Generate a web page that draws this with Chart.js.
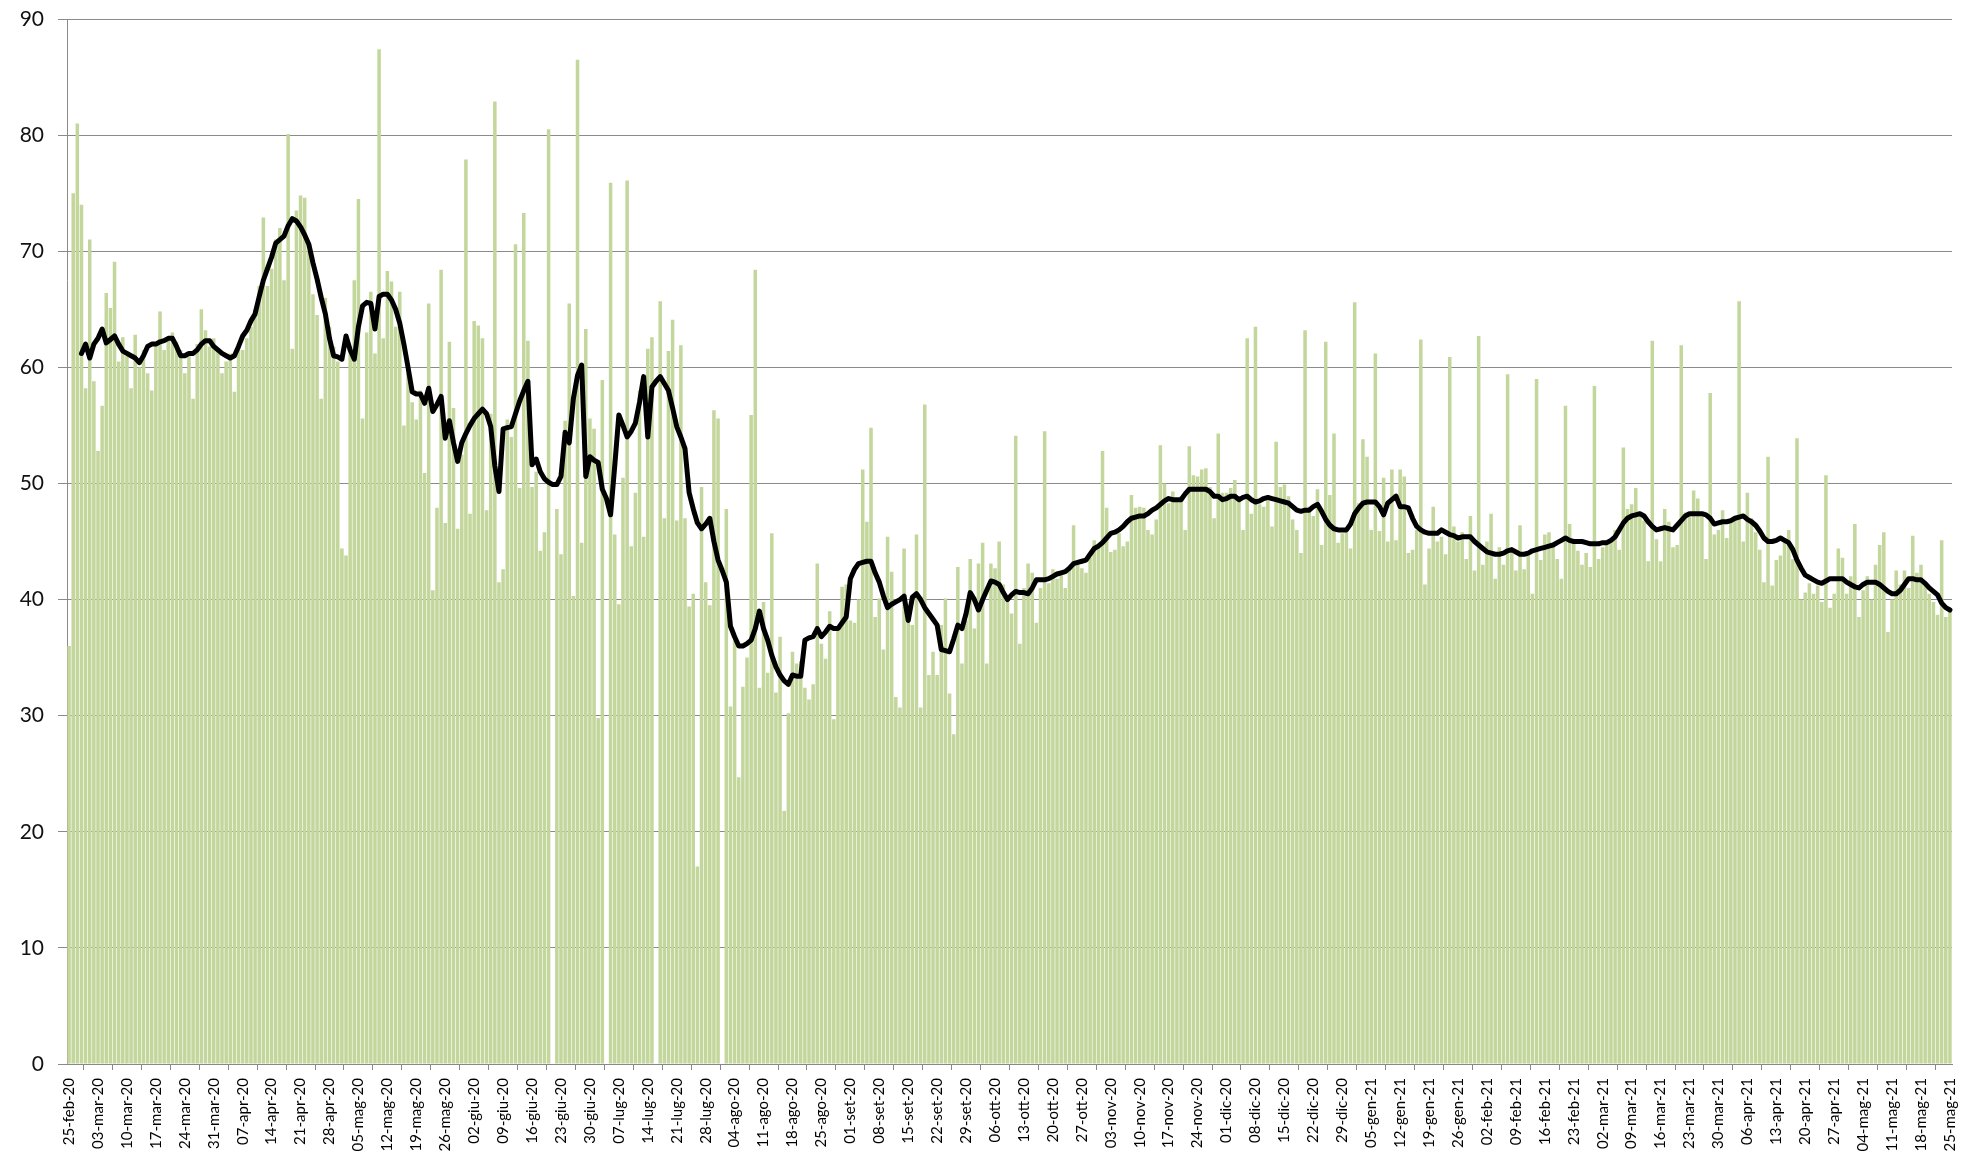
<!DOCTYPE html>
<html lang="it">
<head>
    <meta charset="UTF-8">
    <title>Quota giornaliera e media mobile</title>
    <script src="https://cdn.jsdelivr.net/npm/chart.js"></script>
    <style>
        html, body { margin: 0; padding: 0; background: #fff; }
        #wrap { width: 1973px; height: 1159px; }
    </style>
</head>
<body>
<div id="wrap"><canvas id="chart" width="1973" height="1159"></canvas></div>

<script>
    // x labels: one per day from 25-feb-20, shown every 7 days
    const monthNames = ["gen", "feb", "mar", "apr", "mag", "giu", "lug", "ago", "set", "ott", "nov", "dic"];
    const firstDay = [2020, 1, 25];
    const labelEvery = 7;
    const yTicks = { min: 0, max: 90, step: 10 };

    // daily values (bars), one row per week
    const dailyValues = [
        36, 75, 81, 74, 58.2, 71, 58.8,
        52.8, 56.7, 66.4, 65.1, 69.1, 60.5, 62.6,
        61, 58.2, 62.8, 60, 61.5, 59.5, 58,
        62, 64.8, 61.5, 62.5, 63, 62.2, 61.5,
        59.5, 61, 57.3, 62, 65, 63.2, 61.8,
        62.5, 61.5, 59.5, 60.5, 61.2, 57.9, 62,
        61.5, 62.5, 63.5, 65, 67, 72.9, 67,
        68.5, 71, 72, 67.5, 80.1, 61.6, 73.5,
        74.8, 74.6, 70, 66.3, 64.5, 57.3, 66,
        63.5, 61.8, 60.5, 44.4, 43.8, 61.5, 67.5,
        74.5, 55.6, 63, 66.5, 61.2, 87.4, 62.5,
        68.3, 67.4, 63.5, 66.5, 55, 59.5, 57,
        55.5, 58, 50.9, 65.5, 40.8, 47.9, 68.4,
        46.6, 62.2, 56.5, 46.1, 52.5, 77.9, 47.4,
        64, 63.6, 62.5, 47.7, 56, 82.9, 41.5,
        42.6, 55.5, 54, 70.6, 49.6, 73.3, 62.3,
        49.7, 51, 44.2, 45.8, 80.5, null, 47.8,
        43.9, 55.4, 65.5, 40.3, 86.5, 44.9, 63.3,
        55.6, 54.7, 29.8, 58.9, null, 75.9, 45.6,
        39.6, 50.5, 76.1, 44.6, 49.2, 58, 45.4,
        61.6, 62.6, null, 65.7, 47, 61.4, 64.1,
        46.8, 61.9, 47, 39.4, 40.5, 17, 49.7,
        41.5, 39.5, 56.3, 55.6, null, 47.8, 30.8,
        36.5, 24.7, 32.5, 35, 55.9, 68.4, 32.4,
        39.8, 33.7, 45.7, 32, 36.8, 21.8, 30.2,
        35.5, 34.5, 34.7, 32.4, 31.4, 32.7, 43.1,
        36.2, 34.9, 39, 29.7, 37.3, 41.1, 41.3,
        38.2, 38, 40, 51.2, 46.7, 54.8, 38.5,
        40.1, 35.7, 45.4, 42.4, 31.6, 30.7, 44.4,
        39.1, 37.8, 45.6, 30.7, 56.8, 33.5, 35.5,
        33.5, 37.8, 40.1, 31.9, 28.4, 42.8, 34.5,
        38.2, 43.5, 37.5, 43.1, 44.9, 34.5, 43.1,
        42.7, 45, 41.3, 40, 38.8, 54.1, 36.2,
        41, 43.1, 42.3, 38, 41, 54.5, 41.4,
        42.6, 41.8, 42.3, 41, 42.6, 46.4, 43.1,
        42.7, 42.3, 43.6, 45.1, 44.5, 52.8, 47.9,
        44.1, 44.3, 45.7, 44.6, 45, 49, 47.9,
        48, 47.9, 46, 45.6, 46.9, 53.3, 50,
        48.3, 49.3, 48.7, 48.9, 46, 53.2, 50.7,
        50.6, 51.2, 51.3, 49.7, 47, 54.3, 49.2,
        49.2, 49.6, 50.3, 48.6, 46, 62.5, 47.4,
        63.5, 48.2, 48, 48.6, 46.3, 53.6, 49.7,
        49.9, 48.9, 46.9, 46, 44, 63.2, 48,
        47.2, 49.5, 44.7, 62.2, 49, 54.3, 44.9,
        45.7, 45.9, 44.4, 65.6, 48.3, 53.8, 52.3,
        46, 61.2, 45.9, 50.5, 45, 51.2, 45.1,
        51.2, 50.6, 44, 44.3, 46, 62.4, 41.3,
        44.4, 48, 45, 45.4, 43.9, 60.9, 46.3,
        45, 45.8, 43.5, 47.2, 42.5, 62.7, 43,
        45, 47.4, 41.8, 44.5, 43, 59.4, 44,
        42.5, 46.4, 42.6, 43.8, 40.5, 59, 43.4,
        45.6, 45.8, 44.5, 43.5, 41.8, 56.7, 46.5,
        45.2, 44.2, 43, 44, 42.8, 58.4, 43.5,
        44.5, 45, 45.2, 46, 44.3, 53.1, 47.8,
        48.2, 49.6, 47.5, 46.8, 43.3, 62.3, 45.2,
        43.3, 47.8, 46.7, 44.5, 44.7, 61.9, 47.5,
        47.2, 49.4, 48.7, 47.5, 43.5, 57.8, 45.6,
        46, 47.7, 45.3, 46.8, 47, 65.7, 45,
        49.2, 47, 45.8, 44.3, 41.5, 52.3, 41.2,
        43.4, 43.8, 45.1, 46, 43.5, 53.9, 40,
        40.6, 41.4, 40.5, 41.2, 39.8, 50.7, 39.3,
        40.5, 44.4, 43.6, 40.5, 42, 46.5, 38.5,
        40.8, 42, 40, 43, 44.7, 45.8, 37.2,
        40, 42.5, 41.3, 42.5, 41, 45.5, 42.3,
        43, 41.5, 40.5, 39.8, 38.7, 45.1, 38.5,
        39
    ];

    // moving average (black line), one row per week
    const avgValues = [
        null, null, null, 61.2, 62, 60.8, 62,
        62.5, 63.3, 62.1, 62.4, 62.7, 62, 61.4,
        61.2, 61, 60.8, 60.4, 61, 61.8, 62,
        62, 62.2, 62.3, 62.5, 62.5, 61.8, 61,
        61, 61.2, 61.2, 61.5, 62, 62.3, 62.3,
        61.8, 61.5, 61.2, 61, 60.8, 61, 61.8,
        62.7, 63.2, 64, 64.6, 66.1, 67.5, 68.5,
        69.5, 70.7, 71, 71.3, 72.2, 72.8, 72.6,
        72.1, 71.4, 70.6, 69, 67.6, 66, 64.6,
        62.5, 61, 60.9, 60.7, 62.7, 61.5, 60.7,
        63.5, 65.3, 65.6, 65.5, 63.3, 66.1, 66.3,
        66.3, 65.8, 65, 63.8, 62, 60, 57.9,
        57.7, 57.7, 56.9, 58.2, 56.2, 56.8, 57.5,
        53.9, 55.4, 53.5, 51.9, 53.5, 54.3, 55,
        55.6, 56, 56.4, 56, 54.9, 51.5, 49.3,
        54.7, 54.8, 54.9, 56, 57.1, 58, 58.8,
        51.6, 52.1, 51, 50.4, 50.1, 49.9, 49.9,
        50.6, 54.4, 53.5, 57.3, 59.3, 60.2, 50.6,
        52.3, 52, 51.8, 49.5, 48.7, 47.3, 51.5,
        55.9, 55, 54, 54.5, 55.2, 57, 59.2,
        54, 58.3, 58.8, 59.2, 58.6, 58, 56.5,
        54.9, 54, 53, 49.2, 47.8, 46.6, 46.1,
        46.5, 47, 45, 43.4, 42.5, 41.5, 37.7,
        36.8, 36, 36, 36.2, 36.5, 37.5, 39,
        37.5, 36.5, 35.2, 34.2, 33.5, 33, 32.7,
        33.5, 33.4, 33.4, 36.5, 36.7, 36.8, 37.5,
        36.8, 37.2, 37.7, 37.5, 37.5, 38, 38.5,
        41.8, 42.6, 43.1, 43.2, 43.3, 43.3, 42.3,
        41.5, 40.3, 39.3, 39.6, 39.8, 40, 40.3,
        38.2, 40.2, 40.5, 40, 39.3, 38.8, 38.3,
        37.8, 35.7, 35.6, 35.5, 36.6, 37.8, 37.5,
        38.8, 40.6, 40, 39.1, 40, 40.8, 41.6,
        41.5, 41.3, 40.6, 40, 40.4, 40.7, 40.6,
        40.6, 40.5, 41, 41.7, 41.7, 41.7, 41.8,
        42, 42.2, 42.3, 42.4, 42.7, 43.1, 43.2,
        43.3, 43.4, 43.9, 44.4, 44.6, 44.9, 45.3,
        45.7, 45.8, 46, 46.3, 46.7, 47, 47.1,
        47.2, 47.2, 47.4, 47.7, 47.9, 48.2, 48.5,
        48.7, 48.6, 48.6, 48.6, 49.1, 49.5, 49.5,
        49.5, 49.5, 49.5, 49.3, 48.9, 48.9, 48.6,
        48.7, 48.9, 48.9, 48.6, 48.8, 48.9, 48.6,
        48.4, 48.5, 48.7, 48.8, 48.7, 48.6, 48.5,
        48.4, 48.3, 48, 47.7, 47.6, 47.7, 47.7,
        48, 48.2, 47.6, 46.9, 46.4, 46.1, 46,
        46, 46, 46.5, 47.4, 47.9, 48.3, 48.4,
        48.4, 48.4, 48, 47.3, 48.3, 48.6, 48.9,
        48, 48, 47.9, 47, 46.3, 46, 45.8,
        45.7, 45.7, 45.7, 46, 45.8, 45.6, 45.5,
        45.3, 45.4, 45.4, 45.4, 45, 44.7, 44.4,
        44.1, 44, 43.9, 43.9, 44, 44.2, 44.3,
        44.1, 43.9, 43.9, 44, 44.2, 44.3, 44.4,
        44.5, 44.6, 44.7, 44.9, 45.1, 45.3, 45.1,
        45, 45, 45, 44.9, 44.8, 44.8, 44.8,
        44.9, 44.9, 45.1, 45.4, 46, 46.6, 47,
        47.2, 47.3, 47.4, 47.2, 46.7, 46.3, 46,
        46.1, 46.2, 46.1, 46, 46.4, 46.8, 47.2,
        47.4, 47.4, 47.4, 47.4, 47.3, 47, 46.5,
        46.6, 46.7, 46.7, 46.8, 47, 47.1, 47.2,
        46.9, 46.7, 46.4, 45.9, 45.3, 45, 45,
        45.1, 45.3, 45.1, 44.9, 44.3, 43.4, 42.7,
        42.1, 41.9, 41.7, 41.5, 41.4, 41.6, 41.8,
        41.8, 41.8, 41.8, 41.5, 41.3, 41.1, 41,
        41.3, 41.5, 41.5, 41.5, 41.3, 41, 40.7,
        40.5, 40.5, 40.8, 41.3, 41.8, 41.8, 41.7,
        41.7, 41.4, 41, 40.7, 40.4, 39.7, 39.3,
        39.1
    ];

    function pad2(n) {
        return n < 10 ? "0" + n : "" + n;
    }

    const labels = dailyValues.map((v, i) => {
        const d = new Date(firstDay[0], firstDay[1], firstDay[2] + i);
        return pad2(d.getDate()) + "-" + monthNames[d.getMonth()] + "-" + String(d.getFullYear()).slice(2);
    });

    const ctx = document.getElementById("chart").getContext("2d");

    new Chart(ctx, {
        type: "bar",
        data: {
            labels: labels,
            datasets: [
                {
                    type: "line",
                    data: avgValues,
                    borderColor: "#000",
                    borderWidth: 5,
                    pointRadius: 0,
                    tension: 0,
                    borderJoinStyle: "round",
                    borderCapStyle: "round",
                    order: 0
                },
                {
                    type: "bar",
                    data: dailyValues,
                    backgroundColor: "#c3d69b",
                    barPercentage: 0.85,
                    categoryPercentage: 1,
                    order: 1
                }
            ]
        },
        options: {
            responsive: false,
            animation: false,
            layout: { padding: { top: 19, right: 21, left: 0, bottom: 0 } },
            plugins: {
                legend: { display: false },
                tooltip: { enabled: false }
            },
            scales: {
                x: {
                    grid: { drawOnChartArea: false, tickLength: 6, color: "#888", lineWidth: 1 },
                    border: { color: "#888", width: 1 },
                    ticks: {
                        autoSkip: false,
                        maxRotation: 90,
                        minRotation: 90,
                        padding: 8,
                        color: "#000",
                        font: { family: "Lato", size: 15 },
                        callback: (value, index) => index % labelEvery === 0 ? labels[index] : null
                    },
                    afterFit: (scale) => {
                        scale.height = 95;
                        scale.paddingLeft = 0;
                        scale.paddingRight = 0;
                    }
                },
                y: {
                    min: yTicks.min,
                    max: yTicks.max,
                    ticks: {
                        stepSize: yTicks.step,
                        padding: 14,
                        color: "#111",
                        font: { family: "Lato", size: 21 }
                    },
                    grid: { color: "#8a8a8a", lineWidth: 1, tickLength: 9 },
                    border: { color: "#8a8a8a", width: 1 },
                    afterFit: (scale) => {
                        scale.width = 67;
                        scale.paddingTop = 0;
                        scale.paddingBottom = 0;
                    }
                }
            }
        }
    });
</script>
</body>
</html>
